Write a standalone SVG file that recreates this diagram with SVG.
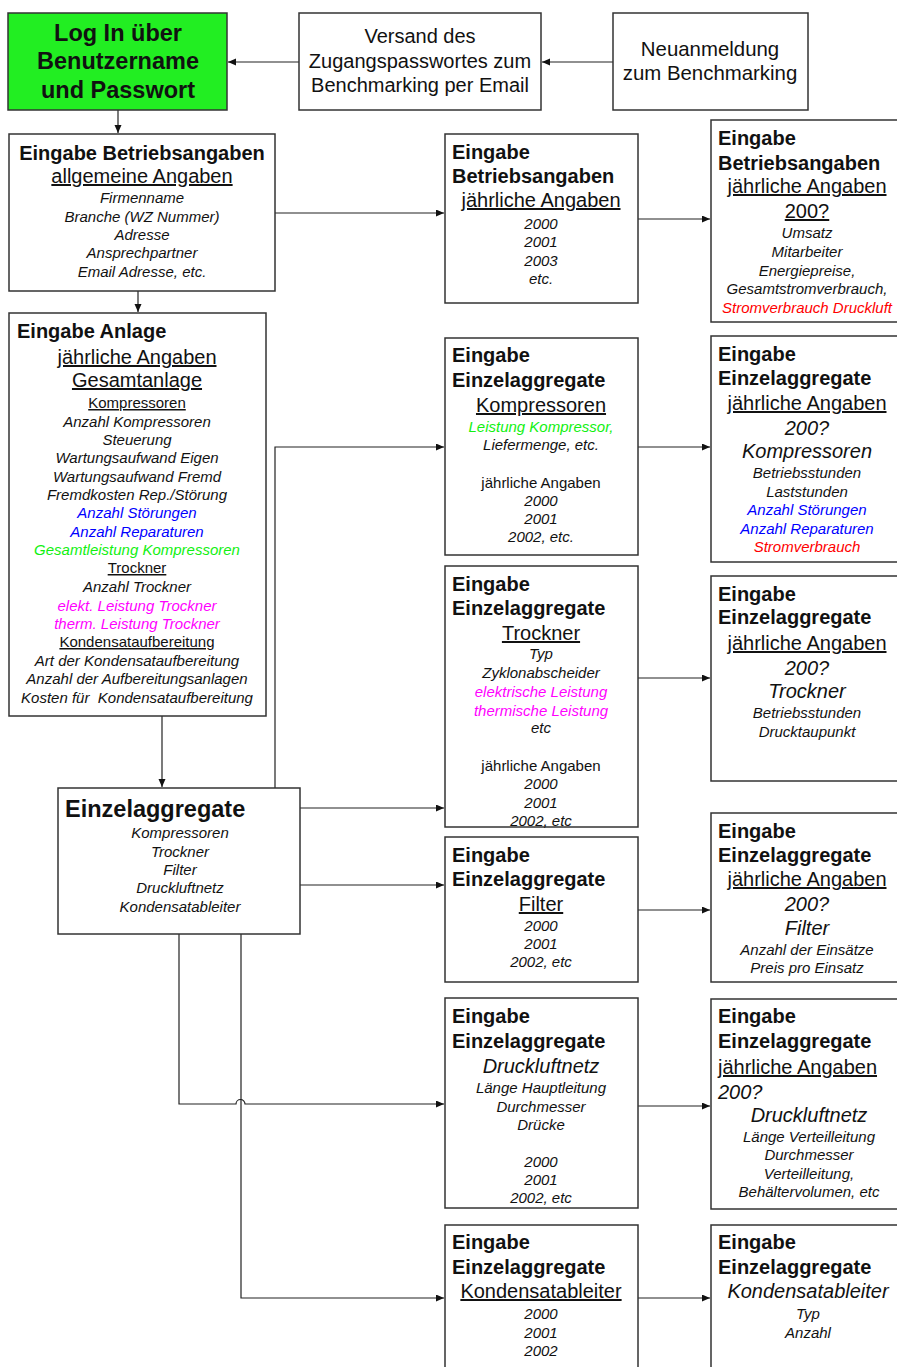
<svg xmlns="http://www.w3.org/2000/svg" width="897" height="1367" viewBox="0 0 897 1367">
<style>
text{font-family:"Liberation Sans",Arial,sans-serif;fill:#111}
.box{fill:#fff;stroke:#333;stroke-width:1.5}
.t{font-size:20px;font-weight:bold}
.u{font-size:20px;text-decoration:underline}
.r20{font-size:20px}
.i20{font-size:20px;font-style:italic}
.s{font-size:15px;font-style:italic}
.su{font-size:15px;text-decoration:underline}
.sr{font-size:15px}
.c{text-anchor:middle}
.blue{fill:#0000ff}.grn{fill:#11f011}.mag{fill:#ff00ff}.red{fill:#ff0000}
.ln{fill:none;stroke:#222;stroke-width:1.2}
</style>
<defs>
<marker id="ah" markerWidth="9" markerHeight="8" refX="8" refY="3.5" orient="auto" markerUnits="userSpaceOnUse">
<path d="M0,0 L8,3.5 L0,7 z" fill="#111"/>
</marker>
</defs>

<g id="connectors">
<line class="ln" x1="299" y1="62" x2="228" y2="62" marker-end="url(#ah)"/>
<line class="ln" x1="613" y1="62" x2="542" y2="62" marker-end="url(#ah)"/>
<line class="ln" x1="118" y1="110" x2="118" y2="133" marker-end="url(#ah)"/>
<line class="ln" x1="138" y1="291" x2="138" y2="312" marker-end="url(#ah)"/>
<line class="ln" x1="275" y1="213" x2="444" y2="213" marker-end="url(#ah)"/>
<line class="ln" x1="638" y1="219" x2="710" y2="219" marker-end="url(#ah)"/>
<line class="ln" x1="162" y1="716" x2="162" y2="787" marker-end="url(#ah)"/>
<polyline class="ln" points="275,788 275,447 444,447" marker-end="url(#ah)"/>
<line class="ln" x1="638" y1="447" x2="710" y2="447" marker-end="url(#ah)"/>
<line class="ln" x1="300" y1="808" x2="444" y2="808" marker-end="url(#ah)"/>
<line class="ln" x1="638" y1="678" x2="710" y2="678" marker-end="url(#ah)"/>
<line class="ln" x1="300" y1="885" x2="444" y2="885" marker-end="url(#ah)"/>
<line class="ln" x1="638" y1="910" x2="710" y2="910" marker-end="url(#ah)"/>
<path class="ln" d="M179,934 L179,1104 L236,1104 A4.5,4.5 0 0 1 245,1104 L444,1104" marker-end="url(#ah)"/>
<line class="ln" x1="638" y1="1106" x2="710" y2="1106" marker-end="url(#ah)"/>
<polyline class="ln" points="241,934 241,1298 444,1298" marker-end="url(#ah)"/>
<line class="ln" x1="638" y1="1298" x2="710" y2="1298" marker-end="url(#ah)"/>
</g>

<g id="login">
<rect x="8" y="13" width="219" height="97" fill="#22ee22" stroke="#333" stroke-width="1.5"/>
<text class="c" x="118" y="41" style="font-size:23.5px;font-weight:bold">Log In über</text>
<text class="c" x="118" y="69" style="font-size:23.5px;font-weight:bold">Benutzername</text>
<text class="c" x="118" y="98" style="font-size:23.5px;font-weight:bold">und Passwort</text>
</g>

<g id="versand">
<rect class="box" x="299" y="13" width="242" height="97"/>
<text class="c r20" x="420" y="43">Versand des</text>
<text class="c r20" x="420" y="68">Zugangspasswortes zum</text>
<text class="c r20" x="420" y="92">Benchmarking per Email</text>
</g>

<g id="neuanmeldung">
<rect class="box" x="613" y="13" width="195" height="97"/>
<text class="c" x="710" y="56" style="font-size:20.4px">Neuanmeldung</text>
<text class="c" x="710" y="80" style="font-size:20.4px">zum Benchmarking</text>
</g>

<g id="betrieb-allg">
<rect class="box" x="9" y="134" width="266" height="157"/>
<text class="c t" x="142" y="160">Eingabe Betriebsangaben</text>
<text class="c u" x="142" y="183">allgemeine Angaben</text>
<text class="c s" x="142" y="203">Firmenname</text>
<text class="c s" x="142" y="222">Branche (WZ Nummer)</text>
<text class="c s" x="142" y="240">Adresse</text>
<text class="c s" x="142" y="258">Ansprechpartner</text>
<text class="c s" x="142" y="277">Email Adresse, etc.</text>
</g>

<g id="betrieb-jahr">
<rect class="box" x="445" y="134" width="193" height="169"/>
<text class="t" x="452" y="159">Eingabe</text>
<text class="t" x="452" y="183">Betriebsangaben</text>
<text class="c u" x="541" y="207">jährliche Angaben</text>
<text class="c s" x="541" y="229">2000</text>
<text class="c s" x="541" y="247">2001</text>
<text class="c s" x="541" y="266">2003</text>
<text class="c s" x="541" y="284">etc.</text>
</g>

<g id="betrieb-200x">
<rect class="box" x="711" y="120" width="192" height="202"/>
<text class="t" x="718" y="145">Eingabe</text>
<text class="t" x="718" y="170">Betriebsangaben</text>
<text class="c u" x="807" y="193">jährliche Angaben</text>
<text class="c u" x="807" y="218">200?</text>
<text class="c s" x="807" y="238">Umsatz</text>
<text class="c s" x="807" y="257">Mitarbeiter</text>
<text class="c s" x="807" y="276">Energiepreise,</text>
<text class="c s" x="807" y="294">Gesamtstromverbrauch,</text>
<text class="c s red" x="807" y="313">Stromverbrauch Druckluft</text>
</g>

<g id="anlage">
<rect class="box" x="9" y="313" width="257" height="403"/>
<text class="t" x="17" y="338">Eingabe Anlage</text>
<text class="c u" x="137" y="364">jährliche Angaben</text>
<text class="c u" x="137" y="387">Gesamtanlage</text>
<text class="c su" x="137" y="408">Kompressoren</text>
<text class="c s" x="137" y="427">Anzahl Kompressoren</text>
<text class="c s" x="137" y="445">Steuerung</text>
<text class="c s" x="137" y="463">Wartungsaufwand Eigen</text>
<text class="c s" x="137" y="482">Wartungsaufwand Fremd</text>
<text class="c s" x="137" y="500">Fremdkosten Rep./Störung</text>
<text class="c s blue" x="137" y="518">Anzahl Störungen</text>
<text class="c s blue" x="137" y="537">Anzahl Reparaturen</text>
<text class="c s grn" x="137" y="555">Gesamtleistung Kompressoren</text>
<text class="c su" x="137" y="573">Trockner</text>
<text class="c s" x="137" y="592">Anzahl Trockner</text>
<text class="c s mag" x="137" y="611">elekt. Leistung Trockner</text>
<text class="c s mag" x="137" y="629">therm. Leistung Trockner</text>
<text class="c su" x="137" y="647">Kondensataufbereitung</text>
<text class="c s" x="137" y="666">Art der Kondensataufbereitung</text>
<text class="c s" x="137" y="684">Anzahl der Aufbereitungsanlagen</text>
<text class="c s" x="137" y="703" xml:space="preserve">Kosten für  Kondensataufbereitung</text>
</g>

<g id="einzelaggregate">
<rect class="box" x="58" y="788" width="242" height="146"/>
<text x="65" y="817" style="font-size:23.5px;font-weight:bold">Einzelaggregate</text>
<text class="c s" x="180" y="838">Kompressoren</text>
<text class="c s" x="180" y="857">Trockner</text>
<text class="c s" x="180" y="875">Filter</text>
<text class="c s" x="180" y="893">Druckluftnetz</text>
<text class="c s" x="180" y="912">Kondensatableiter</text>
</g>

<g id="kompressoren">
<rect class="box" x="445" y="338" width="193" height="217"/>
<text class="t" x="452" y="362">Eingabe</text>
<text class="t" x="452" y="387">Einzelaggregate</text>
<text class="c u" x="541" y="412">Kompressoren</text>
<text class="c s grn" x="541" y="432">Leistung Kompressor,</text>
<text class="c s" x="541" y="450">Liefermenge, etc.</text>
<text class="c sr" x="541" y="488">jährliche Angaben</text>
<text class="c s" x="541" y="506">2000</text>
<text class="c s" x="541" y="524">2001</text>
<text class="c s" x="541" y="542">2002, etc.</text>
</g>

<g id="kompressoren-200x">
<rect class="box" x="711" y="336" width="192" height="226"/>
<text class="t" x="718" y="361">Eingabe</text>
<text class="t" x="718" y="385">Einzelaggregate</text>
<text class="c u" x="807" y="410">jährliche Angaben</text>
<text class="c i20" x="807" y="435">200?</text>
<text class="c i20" x="807" y="458">Kompressoren</text>
<text class="c s" x="807" y="478">Betriebsstunden</text>
<text class="c s" x="807" y="497">Laststunden</text>
<text class="c s blue" x="807" y="515">Anzahl Störungen</text>
<text class="c s blue" x="807" y="534">Anzahl Reparaturen</text>
<text class="c s red" x="807" y="552">Stromverbrauch</text>
</g>

<g id="trockner">
<rect class="box" x="445" y="566" width="193" height="261"/>
<text class="t" x="452" y="591">Eingabe</text>
<text class="t" x="452" y="615">Einzelaggregate</text>
<text class="c u" x="541" y="640">Trockner</text>
<text class="c s" x="541" y="659">Typ</text>
<text class="c s" x="541" y="678">Zyklonabscheider</text>
<text class="c s mag" x="541" y="697">elektrische Leistung</text>
<text class="c s mag" x="541" y="716">thermische Leistung</text>
<text class="c s" x="541" y="733">etc</text>
<text class="c sr" x="541" y="771">jährliche Angaben</text>
<text class="c s" x="541" y="789">2000</text>
<text class="c s" x="541" y="808">2001</text>
<text class="c s" x="541" y="826">2002, etc</text>
</g>

<g id="trockner-200x">
<rect class="box" x="711" y="576" width="192" height="205"/>
<text class="t" x="718" y="601">Eingabe</text>
<text class="t" x="718" y="624">Einzelaggregate</text>
<text class="c u" x="807" y="650">jährliche Angaben</text>
<text class="c i20" x="807" y="675">200?</text>
<text class="c i20" x="807" y="698">Trockner</text>
<text class="c s" x="807" y="718">Betriebsstunden</text>
<text class="c s" x="807" y="737">Drucktaupunkt</text>
</g>

<g id="filter">
<rect class="box" x="445" y="837" width="193" height="145"/>
<text class="t" x="452" y="862">Eingabe</text>
<text class="t" x="452" y="886">Einzelaggregate</text>
<text class="c u" x="541" y="911">Filter</text>
<text class="c s" x="541" y="931">2000</text>
<text class="c s" x="541" y="949">2001</text>
<text class="c s" x="541" y="967">2002, etc</text>
</g>

<g id="filter-200x">
<rect class="box" x="711" y="813" width="192" height="169"/>
<text class="t" x="718" y="838">Eingabe</text>
<text class="t" x="718" y="862">Einzelaggregate</text>
<text class="c u" x="807" y="886">jährliche Angaben</text>
<text class="c i20" x="807" y="911">200?</text>
<text class="c i20" x="807" y="935">Filter</text>
<text class="c s" x="807" y="955">Anzahl der Einsätze</text>
<text class="c s" x="807" y="973">Preis pro Einsatz</text>
</g>

<g id="druckluftnetz">
<rect class="box" x="445" y="998" width="193" height="210"/>
<text class="t" x="452" y="1023">Eingabe</text>
<text class="t" x="452" y="1048">Einzelaggregate</text>
<text class="c i20" x="541" y="1073">Druckluftnetz</text>
<text class="c s" x="541" y="1093">Länge Hauptleitung</text>
<text class="c s" x="541" y="1112">Durchmesser</text>
<text class="c s" x="541" y="1130">Drücke</text>
<text class="c s" x="541" y="1167">2000</text>
<text class="c s" x="541" y="1185">2001</text>
<text class="c s" x="541" y="1203">2002, etc</text>
</g>

<g id="druckluftnetz-200x">
<rect class="box" x="711" y="999" width="192" height="210"/>
<text class="t" x="718" y="1023">Eingabe</text>
<text class="t" x="718" y="1048">Einzelaggregate</text>
<text class="u" x="718" y="1074">jährliche Angaben</text>
<text class="i20" x="718" y="1099">200?</text>
<text class="c i20" x="809" y="1122">Druckluftnetz</text>
<text class="c s" x="809" y="1142">Länge Verteilleitung</text>
<text class="c s" x="809" y="1160">Durchmesser</text>
<text class="c s" x="809" y="1179">Verteilleitung,</text>
<text class="c s" x="809" y="1197">Behältervolumen, etc</text>
</g>

<g id="kondensatableiter">
<rect class="box" x="445" y="1225" width="193" height="160"/>
<text class="t" x="452" y="1249">Eingabe</text>
<text class="t" x="452" y="1274">Einzelaggregate</text>
<text class="c u" x="541" y="1298">Kondensatableiter</text>
<text class="c s" x="541" y="1319">2000</text>
<text class="c s" x="541" y="1338">2001</text>
<text class="c s" x="541" y="1356">2002</text>
</g>

<g id="kondensatableiter-200x">
<rect class="box" x="711" y="1225" width="192" height="160"/>
<text class="t" x="718" y="1249">Eingabe</text>
<text class="t" x="718" y="1274">Einzelaggregate</text>
<text class="c i20" x="808" y="1298">Kondensatableiter</text>
<text class="c s" x="808" y="1319">Typ</text>
<text class="c s" x="808" y="1338">Anzahl</text>
</g>
</svg>
